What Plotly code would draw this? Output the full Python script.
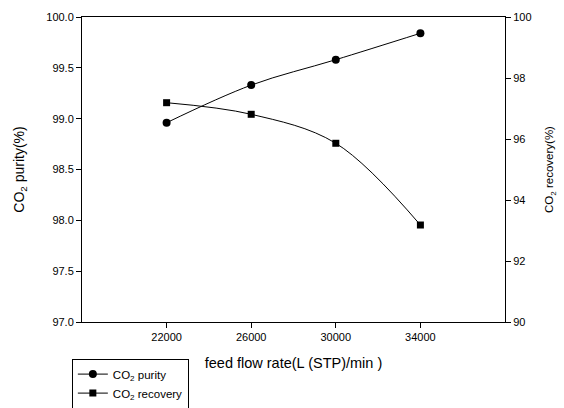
import plotly.graph_objects as go

# Feed flow rate (L(STP)/min) and the two performance measures
flow_rate = [22000, 26000, 30000, 34000]
purity = [98.96, 99.33, 99.58, 99.84]
recovery = [97.19, 96.81, 95.86, 93.18]

FONT = "Liberation Sans, Arial, sans-serif"

fig = go.Figure()
fig.add_trace(go.Scatter(
    x=flow_rate, y=purity, name="CO<sub>2</sub> purity",
    mode="lines+markers", line=dict(color="black", width=1, shape="spline"),
    marker=dict(symbol="circle", size=8, color="black"),
    yaxis="y",
))
fig.add_trace(go.Scatter(
    x=flow_rate, y=recovery, name="CO<sub>2</sub> recovery",
    mode="lines+markers", line=dict(color="black", width=1, shape="spline"),
    marker=dict(symbol="square", size=7, color="black"),
    yaxis="y2",
))

axis_common = dict(
    showgrid=False, zeroline=False, showline=True, linecolor="black",
    linewidth=1, ticks="outside", ticklen=5, tickcolor="black",
    tickfont=dict(family=FONT, size=11, color="black"),
)

fig.update_layout(
    width=564, height=408,
    margin=dict(l=82, r=59, t=17, b=86, autoexpand=False),
    paper_bgcolor="white", plot_bgcolor="white",
    font=dict(family=FONT, color="black"),
    xaxis=dict(
        range=[18000, 38000], tickvals=[22000, 26000, 30000, 34000],
        tickformat="d", mirror=True,
        title=dict(text="feed flow rate(L (STP)/min )",
                   font=dict(family=FONT, size=14.5), standoff=15),
        **axis_common,
    ),
    yaxis=dict(
        range=[97.0, 100.0], dtick=0.5, tickformat=".1f",
        title=dict(text="CO<sub>2</sub> purity(%)",
                   font=dict(family=FONT, size=14), standoff=18),
        **axis_common,
    ),
    yaxis2=dict(
        range=[90, 100], dtick=2, overlaying="y", side="right",
        title=dict(text="CO<sub>2</sub> recovery(%)",
                   font=dict(family=FONT, size=11.5), standoff=14),
        **axis_common,
    ),
    legend=dict(
        x=-0.024, y=-0.12, xanchor="left", yanchor="top",
        bordercolor="black", borderwidth=1, bgcolor="white",
        font=dict(family=FONT, size=11.5), itemwidth=30,
        tracegroupgap=0,
    ),
    showlegend=True,
)

fig.write_html("out.html")
